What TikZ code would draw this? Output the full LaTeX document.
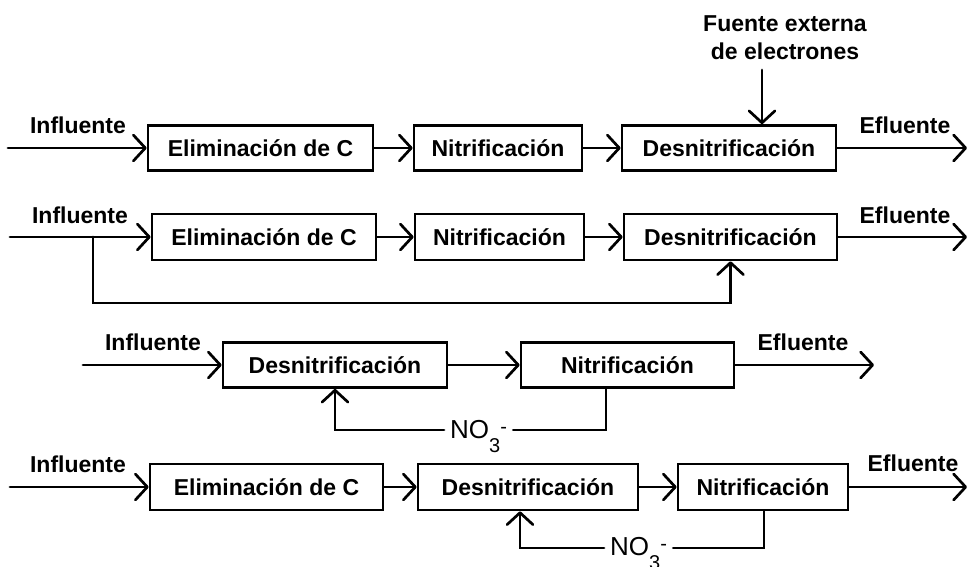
\documentclass[tikz,border=0pt]{standalone}
\usepackage{fontspec}
\setmainfont{Liberation Sans}
\usetikzlibrary{arrows.meta}
\begin{document}
\begin{tikzpicture}[x=1pt,y=-1pt,
  stage/.style={draw, line width=2.7pt, minimum height=45pt, inner sep=0pt,
    font=\bfseries\fontsize{23}{28}\selectfont},
  lbl/.style={font=\bfseries\fontsize{23}{28}\selectfont, inner sep=0pt},
  flow/.style={line width=2.7pt, line cap=round,
    -{Straight Barb[length=12pt,width=26pt,round]}},
  pipe/.style={line width=2.7pt, line cap=round},
  ion/.style={font=\fontsize{26}{28}\selectfont, inner xsep=6pt, inner ysep=0pt}]
\useasboundingbox (0,0) rectangle (970,567);
\newcommand{\nitrate}{NO\raisebox{-14pt}{\fontsize{20}{20}\selectfont 3}\raisebox{5pt}{\fontsize{20}{20}\selectfont -}}

% --- Scheme 1: external electron source ---
\node[stage, minimum width=225pt] (e1) at (260.5,148) {Eliminación de C};
\node[stage, minimum width=168pt] (n1) at (498,148) {Nitrificación};
\node[stage, minimum width=214pt] (d1) at (729,148) {Desnitrificación};
\coordinate (in1) at (8,148);
\coordinate (out1) at (967,148);
\coordinate (src1) at (762,70);
\node[lbl] (inl1) at (78,125) {Influente};
\node[lbl] (efl1) at (905,125) {Efluente};
\node[lbl, align=center] (src) at (785,38) {Fuente externa\\de electrones};
\draw[flow] (in1) -- (e1);
\draw[flow] (e1) -- (n1);
\draw[flow] (n1) -- (d1);
\draw[flow] (d1) -- (out1);
\draw[flow] (src1) -- (src1 |- d1.north);

% --- Scheme 2: influent bypass to denitrification ---
\node[stage, minimum width=224pt, minimum height=46pt] (e2) at (264,237) {Eliminación de C};
\node[stage, minimum width=169pt, minimum height=46pt] (n2) at (499.5,237) {Nitrificación};
\node[stage, minimum width=213pt, minimum height=46pt] (d2) at (730.5,237) {Desnitrificación};
\coordinate (in2) at (10,237);
\coordinate (split2) at (93,237);
\coordinate (low2) at (93,303);
\coordinate (out2) at (967,237);
\node[lbl] (inl2) at (80,215) {Influente};
\node[lbl] (efl2) at (905,215) {Efluente};
\draw[flow] (in2) -- (e2);
\draw[flow] (e2) -- (n2);
\draw[flow] (n2) -- (d2);
\draw[flow] (d2) -- (out2);
\draw[flow] (split2) -- (low2) -| (d2.south);

% --- Scheme 3: pre-denitrification with nitrate recycle ---
\node[stage, minimum width=224pt] (d3) at (335,365) {Desnitrificación};
\node[stage, minimum width=213pt] (n3) at (627.5,365) {Nitrificación};
\coordinate (in3) at (83,365);
\coordinate (out3) at (874,365);
\coordinate (fb3) at (606,430);
\node[lbl] (inl3) at (153,342) {Influente};
\node[lbl] (efl3) at (803,342) {Efluente};
\node[ion, anchor=base west] (no3a) at (444,438) {\nitrate};
\draw[flow] (in3) -- (d3);
\draw[flow] (d3) -- (n3);
\draw[flow] (n3) -- (out3);
\draw[pipe] (n3.south -| fb3) -- (fb3) -- (no3a.east |- fb3);
\draw[flow] (no3a.west |- fb3) -| (d3.south);

% --- Scheme 4: carbon removal, denitrification, nitrification ---
\node[stage, minimum width=233pt, minimum height=46pt] (e4) at (266.5,487) {Eliminación de C};
\node[stage, minimum width=220pt, minimum height=46pt] (d4) at (528,487) {Desnitrificación};
\node[stage, minimum width=170pt, minimum height=46pt] (n4) at (763,487) {Nitrificación};
\coordinate (in4) at (10,487);
\coordinate (out4) at (967,487);
\coordinate (fb4) at (764,548);
\coordinate (ret4) at (520,548);
\node[lbl] (inl4) at (78,464) {Influente};
\node[lbl] (efl4) at (913,463) {Efluente};
\node[ion, anchor=base west] (no3b) at (604,555) {\nitrate};
\draw[flow] (in4) -- (e4);
\draw[flow] (e4) -- (d4);
\draw[flow] (d4) -- (n4);
\draw[flow] (n4) -- (out4);
\draw[pipe] (n4.south -| fb4) -- (fb4) -- (no3b.east |- fb4);
\draw[flow] (no3b.west |- fb4) -| (d4.south -| ret4);
\end{tikzpicture}
\end{document}
